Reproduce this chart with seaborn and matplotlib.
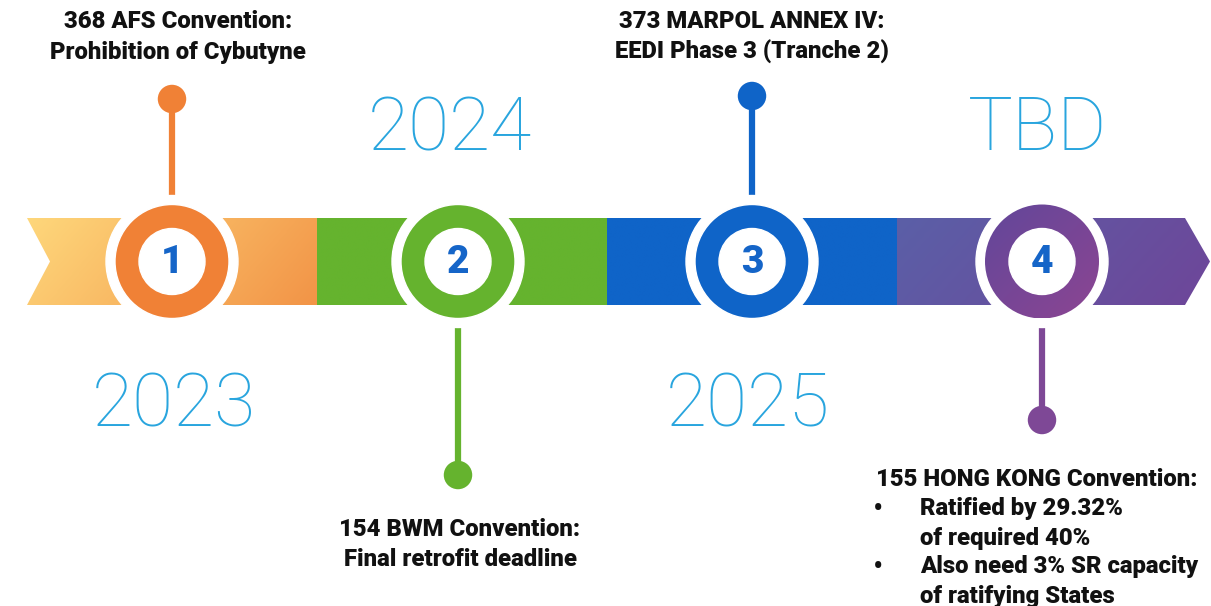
import numpy as np
import pandas as pd
import matplotlib
matplotlib.use("Agg")
import matplotlib.pyplot as plt
import seaborn as sns
from matplotlib.patches import Polygon, Circle
from matplotlib.colors import LinearSegmentedColormap

# milestone data
steps = [1, 2, 3, 4]
years = ["2023", "2024", "2025", "TBD"]
titles = ["368 AFS Convention:", "154 BWM Convention:",
          "373 MARPOL ANNEX IV:", "155 HONG KONG Convention:"]
subtitles = ["Prohibition of Cybutyne", "Final retrofit deadline",
             "EEDI Phase 3 (Tranche 2)", None]
bullets4 = ["Ratified by 29.32%\nof required 40%",
            "Also need 3% SR capacity\nof ratifying States"]

# styling
colors = ["#F08136", "#65B32E", "#0F64C8", "#7E4896"]
seg_grad = [("#FED77B", "#F29447"), ("#65B32E", "#65B32E"),
            ("#0F64C8", "#0F64C8"), ("#5B5FA7", "#6E4699")]
year_col = "#29A5DE"
num_col = "#1565C8"

sns.set_theme(style="white")
plt.rcParams["font.family"] = ["Roboto", "DejaVu Sans"]

fig = plt.figure(figsize=(12.11, 6.06), dpi=100)
ax = fig.add_axes([0, 0, 1, 1])

x0, seg_w = 27, 290
top, bot, mid = 218, 305, 261.5
centers = [x0 + i * seg_w + 145 for i in range(4)]
centers[1] -= 4


def grad_fill(poly_pts, c1, c2, z):
    poly = Polygon(poly_pts, closed=True, facecolor="none", edgecolor="none")
    ax.add_patch(poly)
    xs = [p[0] for p in poly_pts]
    ys = [p[1] for p in poly_pts]
    cmap = LinearSegmentedColormap.from_list("g", [c1, c2])
    gx, gy = np.meshgrid(np.linspace(0, 1, 200), np.linspace(0, 1, 60))
    g = gx * 0.8 + gy * 0.2
    im = ax.imshow(g, cmap=cmap, extent=(min(xs), max(xs), max(ys), min(ys)),
                   aspect="auto", zorder=z, interpolation="bilinear")
    im.set_clip_path(poly)


# band segments
for i in range(4):
    a = x0 + i * seg_w
    b = a + seg_w
    if i == 0:
        pts = [(a, top), (b, top), (b, bot), (a, bot), (a + 23, mid)]
    elif i == 3:
        pts = [(a, top), (b - 2, top), (b + 23, mid), (b - 2, bot), (a, bot)]
    else:
        pts = [(a, top), (b, top), (b, bot), (a, bot)]
    grad_fill(pts, seg_grad[i][0], seg_grad[i][1], 1)

# stems and end dots
dot_y = [99, 475, 96, 420]
for i, cx in enumerate(centers):
    ax.plot([cx, cx], [mid, dot_y[i]], color=colors[i], lw=4.5,
            solid_capstyle="butt", zorder=2)
dots = pd.DataFrame({"x": centers, "y": dot_y, "step": steps})
sns.scatterplot(data=dots, x="x", y="y", hue="step", palette=colors,
                s=420, edgecolor="none", legend=False, ax=ax, zorder=3)

# circles
for i, cx in enumerate(centers):
    ax.add_patch(Circle((cx, mid), 66, facecolor="white", zorder=4))
    if i == 3:
        ring = Circle((cx, mid), 57, facecolor="none", edgecolor="none")
        ax.add_patch(ring)
        cmap = LinearSegmentedColormap.from_list("r", ["#62479A", "#8C4592"])
        gx, gy = np.meshgrid(np.linspace(0, 1, 100), np.linspace(0, 1, 100))
        im = ax.imshow(gx * 0.5 + gy * 0.5, cmap=cmap,
                       extent=(cx - 57, cx + 57, mid + 57, mid - 57),
                       aspect="auto", zorder=5)
        im.set_clip_path(ring)
    else:
        ax.add_patch(Circle((cx, mid), 57, facecolor=colors[i], zorder=5))
    ax.add_patch(Circle((cx, mid), 33, facecolor="white", zorder=6))
    ax.text(cx, mid + 1, str(steps[i]), color=num_col, fontsize=28,
            fontweight="heavy", ha="center", va="center", zorder=7)

# years
year_pos = [(174, 406), (450, 130), (748, 406), (1038, 130)]
for (yx, yy), yr in zip(year_pos, years):
    ax.text(yx, yy, yr, color=year_col, fontsize=54, fontweight="light",
            ha="center", va="center")

# labels
lab = dict(fontsize=17.2, fontweight="heavy", color="#111111")
label_pos = [(178, 22), (460, 530), (752, 22)]
for i, (lx, ly) in enumerate(label_pos):
    ax.text(lx, ly, titles[i], ha="center", va="center", **lab)
    ax.text(lx, ly + 30, subtitles[i], ha="center", va="center", **lab)

ax.text(1037, 479, titles[3], ha="center", va="center", **lab)
for j, btxt in enumerate(bullets4):
    by = 509 + j * 58
    ax.text(878, by, "•", ha="center", va="center", fontsize=22,
            color="#111111")
    l1, l2 = btxt.split("\n")
    ax.text(920, by, l1, ha="left", va="center", **lab)
    ax.text(920, by + 29, l2, ha="left", va="center", **lab)

ax.set_xlim(0, 1211)
ax.set_ylim(606, 0)
ax.axis("off")

fig.savefig("out.png", dpi=100)
